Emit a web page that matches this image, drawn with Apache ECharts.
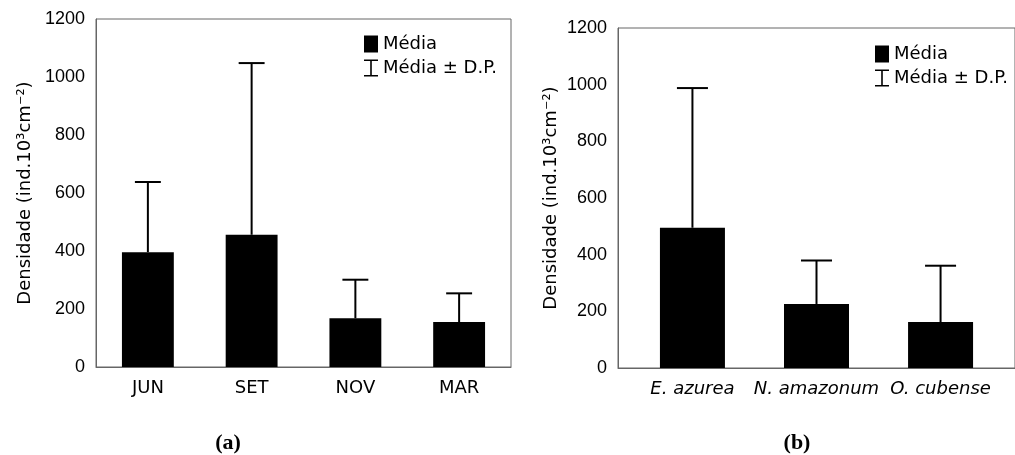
<!DOCTYPE html>
<html>
<head>
<meta charset="utf-8">
<script src="https://cdn.jsdelivr.net/npm/echarts@6/dist/echarts.min.js"></script>
<style>
  html, body { margin: 0; padding: 0; background: #fff; }
  #chart { width: 1015px; height: 455px; }
</style>
</head>
<body>
<div id="chart"></div>
<script>
// Panel (a): density by sampling month
const monthCategories = ['JUN', 'SET', 'NOV', 'MAR'];
const monthMean = [396, 456, 168, 155];
const monthSD = [242, 592, 133, 99];

// Panel (b): density by host plant
const plantCategories = ['E. azurea', 'N. amazonum', 'O. cubense'];
const plantMean = [495, 226, 162];
const plantSD = [493, 153, 199];

const yTicks = [0, 200, 400, 600, 800, 1000, 1200];

const AXIS_COLOR = '#666';
const LABEL_FONT = 'Liberation Sans, Arial, sans-serif';
const TEXT_FONT = 'DejaVu Sans, Verdana, sans-serif';
const PANEL_FONT = 'Liberation Serif, Times New Roman, serif';

const errorIcon = 'path://M0,0H14V1.6H0Z M6.2,0H7.8V17H6.2Z M0,15.4H14V17H0Z';

// Upper error whisker: line from the mean up to mean + SD, with a cap a quarter band wide
function renderError(params, api) {
  const x = api.value(0);
  const mean = api.value(1);
  const sd = api.value(2);
  const p0 = api.coord([x, mean]);
  const p1 = api.coord([x, mean + sd]);
  const half = api.size([1, 0])[0] * 0.125;
  const style = { stroke: '#000', lineWidth: 2 };
  return {
    type: 'group',
    children: [
      { type: 'line', shape: { x1: p0[0], y1: p0[1], x2: p1[0], y2: p1[1] }, style: style },
      { type: 'line', shape: { x1: p1[0] - half, y1: p1[1], x2: p1[0] + half, y2: p1[1] }, style: style }
    ]
  };
}

function yAxis(gridIndex, gap) {
  return {
    type: 'value',
    gridIndex: gridIndex,
    min: yTicks[0],
    max: yTicks[yTicks.length - 1],
    interval: yTicks[1] - yTicks[0],
    name: 'Densidade (ind.10³cm⁻²)',
    nameLocation: 'middle',
    nameRotate: 90,
    nameGap: gap,
    nameTextStyle: { fontFamily: TEXT_FONT, fontSize: 18, color: '#000' },
    axisLine: { show: true, onZero: false, lineStyle: { color: AXIS_COLOR, width: 1 } },
    axisTick: { show: false },
    splitLine: { show: false },
    axisLabel: {
      formatter: (v) => String(v),
      fontFamily: LABEL_FONT,
      fontSize: 18,
      color: '#000',
      margin: 11
    }
  };
}

function legend(left, top) {
  return {
    orient: 'vertical',
    left: left,
    top: top,
    itemWidth: 14,
    itemHeight: 17,
    itemGap: 6,
    selectedMode: false,
    textStyle: { fontFamily: TEXT_FONT, fontSize: 18, color: '#000' },
    data: [
      { name: 'Média', icon: 'rect' },
      { name: 'Média ± D.P.', icon: errorIcon }
    ]
  };
}

const chart = echarts.init(document.getElementById('chart'), null, { renderer: 'canvas' });

chart.setOption({
  backgroundColor: '#fff',
  animation: false,
  grid: [
    { left: 96, right: 504, top: 19, bottom: 88, show: true, borderColor: AXIS_COLOR, borderWidth: 1, backgroundColor: 'transparent' },
    { left: 618, right: -18, top: 28, bottom: 87, show: true, borderColor: AXIS_COLOR, borderWidth: 1, backgroundColor: 'transparent' }
  ],
  legend: [legend(359, 30), legend(870, 40)],
  xAxis: [
    {
      type: 'category',
      gridIndex: 0,
      data: monthCategories,
      boundaryGap: true,
      axisLine: { lineStyle: { color: AXIS_COLOR, width: 1 } },
      axisTick: { show: false },
      axisLabel: { fontFamily: TEXT_FONT, fontSize: 18, color: '#000', margin: 12 }
    },
    {
      type: 'value',
      gridIndex: 1,
      min: -0.6,
      max: 2.6,
      splitLine: { show: false },
      axisLine: { show: true, onZero: false, lineStyle: { color: AXIS_COLOR, width: 1 } },
      axisTick: { show: false },
      axisLabel: {
        customValues: plantCategories.map((_, i) => i),
        formatter: (v) => plantCategories[Math.round(v)] || '',
        fontFamily: TEXT_FONT,
        fontStyle: 'italic',
        fontSize: 18,
        color: '#000',
        margin: 12
      }
    }
  ],
  yAxis: [yAxis(0, 62), yAxis(1, 58)],
  series: [
    {
      name: 'Média',
      type: 'bar',
      xAxisIndex: 0,
      yAxisIndex: 0,
      barWidth: '50%',
      itemStyle: { color: '#000' },
      data: monthMean
    },
    {
      name: 'Média ± D.P.',
      type: 'custom',
      xAxisIndex: 0,
      yAxisIndex: 0,
      itemStyle: { color: '#000' },
      renderItem: renderError,
      encode: { x: 0, y: 1 },
      data: monthMean.map((m, i) => [i, m, monthSD[i]]),
      z: 3
    },
    {
      name: 'Média',
      type: 'bar',
      xAxisIndex: 1,
      yAxisIndex: 1,
      barWidth: 65,
      itemStyle: { color: '#000' },
      data: plantMean.map((m, i) => [i, m])
    },
    {
      name: 'Média ± D.P.',
      type: 'custom',
      xAxisIndex: 1,
      yAxisIndex: 1,
      itemStyle: { color: '#000' },
      renderItem: renderError,
      encode: { x: 0, y: 1 },
      data: plantMean.map((m, i) => [i, m, plantSD[i]]),
      z: 3
    }
  ],
  graphic: [
    { type: 'text', x: 228, y: 443, style: { text: '(a)', x: 0, y: 0, align: 'center', verticalAlign: 'middle', fontFamily: PANEL_FONT, fontWeight: 'bold', fontSize: 22, fill: '#000' } },
    { type: 'text', x: 797, y: 443, style: { text: '(b)', x: 0, y: 0, align: 'center', verticalAlign: 'middle', fontFamily: PANEL_FONT, fontWeight: 'bold', fontSize: 22, fill: '#000' } }
  ]
});
</script>
</body>
</html>
